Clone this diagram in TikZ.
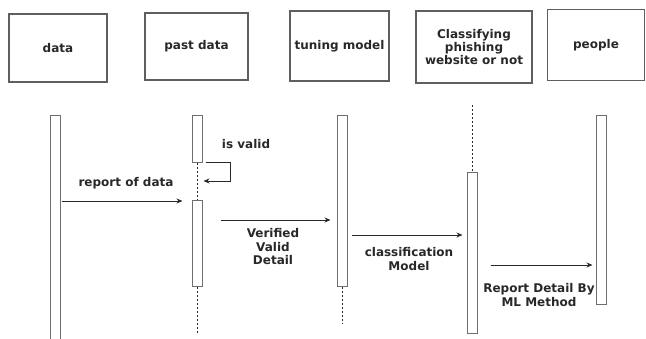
\documentclass[tikz,border=0pt]{standalone}
\usepackage{fontspec}
\setmainfont{DejaVu Sans}
\usetikzlibrary{arrows.meta}
\definecolor{boxgray}{RGB}{95,95,95}
\definecolor{bargray}{RGB}{110,110,110}
\definecolor{txtgray}{RGB}{40,40,40}

\tikzset{
  actor/.style={draw=boxgray, line width=1.3pt, inner sep=0pt, align=center,
    text=txtgray, font=\bfseries\fontsize{12}{13}\selectfont},
  actbar/.style={draw=bargray, line width=1pt, fill=white, minimum width=10pt, inner sep=0pt},
  msg/.style={-{Stealth[length=6pt,width=5pt]}, line width=0.9pt, draw=txtgray},
  lbl/.style={align=center, text=txtgray, font=\bfseries\fontsize{12}{13.5}\selectfont},
  life/.style={dash pattern=on 2pt off 2pt, line width=0.8pt, draw=txtgray}
}

\begin{document}
\begin{tikzpicture}[x=1pt, y=-1pt]
\useasboundingbox (0,0) rectangle (646,338);

% participants
\node[actor, minimum width=98pt, minimum height=68pt] (data) at (58,48) {data};
\node[actor, minimum width=103pt, minimum height=67pt] (past) at (196.5,46.5) {past data};
\node[actor, minimum width=99pt, minimum height=70pt] (tune) at (339.5,46) {tuning model};
\node[actor, minimum width=116pt, minimum height=72pt] (clas) at (474,47) {Classifying\\phishing\\website or not};
\node[actor, minimum width=97pt, minimum height=71pt] (people) at (596,45) {people};

% lifelines
\coordinate (clastop) at (472,105);
\coordinate (pastend) at (197,333);
\coordinate (tuneend) at (342,323);

% activation bars
\node[actbar, minimum height=228pt] (databar) at (55,229) {};
\node[actbar, minimum height=47pt] (pastbarA) at (197,138.5) {};
\node[actbar, minimum height=86pt] (pastbarB) at (197,243) {};
\node[actbar, minimum height=171pt] (tunebar) at (342,200.5) {};
\node[actbar, minimum height=161pt] (clasbar) at (472,252.5) {};
\node[actbar, minimum height=189pt] (peoplebar) at (601,209.5) {};

\draw[life] (pastbarA.south) -- (pastbarB.north);
\draw[life] (pastbarB.south) -- (pastend);
\draw[life] (tunebar.south) -- (tuneend);
\draw[life] (clastop) -- (clasbar.north);

% messages
\draw[msg, shorten <=1pt, shorten >=9pt] (databar.east |- 0,201) -- (pastbarB.west |- 0,201);
\node[lbl] (m1) at (126,183) {report of data};

\draw[msg] ([xshift=3pt]pastbarA.south east) -| (230,181) -- ([xshift=1pt]pastbarA.east |- 0,181);
\node[lbl] (m2) at (246,144) {is valid};

\draw[msg, shorten <=18pt, shorten >=6pt] (pastbarB.east |- 0,220) -- (tunebar.west |- 0,220);
\node[lbl] (m3) at (273,247) {Verified\\Valid\\Detail};

\draw[msg, shorten <=4pt, shorten >=4pt] (tunebar.east |- 0,235) -- (clasbar.west |- 0,235);
\node[lbl] (m4) at (409,259) {classification\\Model};

\draw[msg, shorten <=13pt, shorten >=3pt] (clasbar.east |- 0,265) -- (peoplebar.west |- 0,265);
\node[lbl] (m5) at (539,295) {Report Detail By\\ML Method};
\end{tikzpicture}
\end{document}
